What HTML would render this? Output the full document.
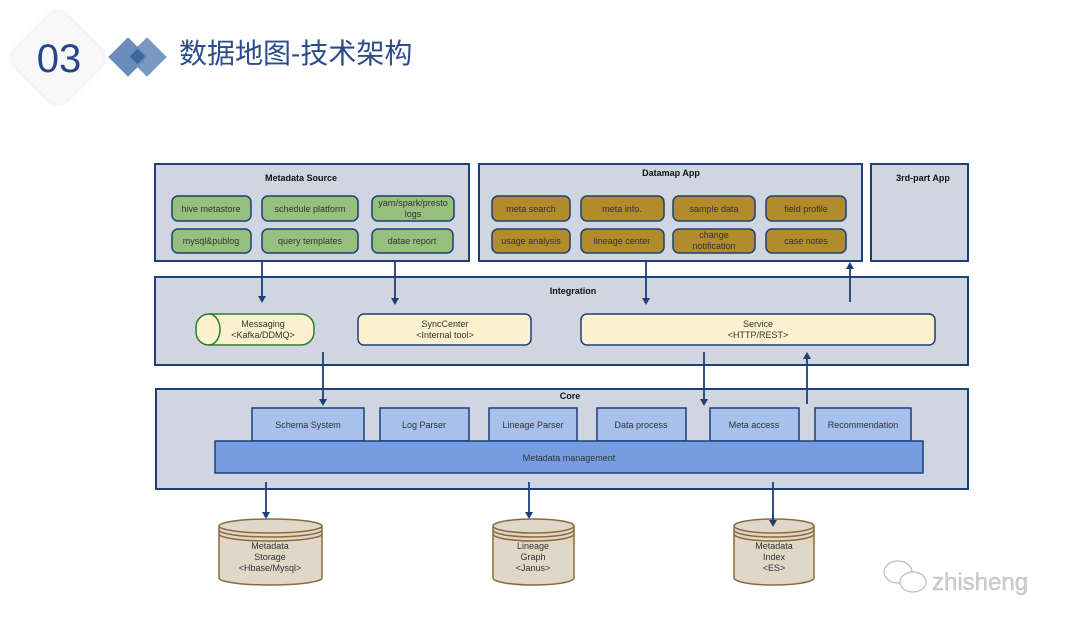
<!DOCTYPE html>
<html><head><meta charset="utf-8"><style>
html,body{margin:0;padding:0;background:#fff;width:1080px;height:631px;overflow:hidden}
svg text{font-family:"Liberation Sans",sans-serif}
</style></head><body>
<svg width="1080" height="631" viewBox="0 0 1080 631" xmlns="http://www.w3.org/2000/svg">
<defs>
<filter id="sh" x="-30%" y="-30%" width="160%" height="160%"><feGaussianBlur stdDeviation="2.5"/></filter>
</defs>
<!-- header -->
<rect x="22" y="22" width="72" height="72" rx="12" transform="rotate(45 58 58)" fill="#ddd" filter="url(#sh)"/>
<rect x="22" y="22" width="72" height="72" rx="12" transform="rotate(45 58 58)" fill="#f8f8f9"/>
<text x="59" y="72" font-size="40" fill="#27468a" text-anchor="middle">03</text>
<rect x="114" y="43" width="28" height="28" transform="rotate(45 128 57)" fill="#6a8dbd"/>
<rect x="133" y="43" width="28" height="28" transform="rotate(45 147 57)" fill="#6a8dbd" opacity="0.9"/>
<rect x="132" y="51" width="11" height="11" transform="rotate(45 137.5 56.5)" fill="#3f66a0"/>
<text x="179" y="63" font-size="28" fill="#2b4c8c" style="font-family:'Liberation Sans','Noto Sans CJK SC',sans-serif">数据地图-技术架构</text>

<g stroke="#1f3f77" stroke-width="2" fill="#cfd5e1">
<rect x="155" y="164" width="314" height="97"/>
<rect x="479" y="164" width="383" height="97"/>
<rect x="871" y="164" width="97" height="97"/>
<rect x="155" y="277" width="813" height="88"/>
<rect x="156" y="389" width="812" height="100"/>
</g>
<g font-size="9" font-weight="bold" fill="#111" text-anchor="middle">
<text x="301" y="181">Metadata Source</text>
<text x="671" y="176">Datamap App</text>
<text x="923" y="181">3rd-part App</text>
<text x="573" y="294">Integration</text>
<text x="570" y="399">Core</text>
</g>
<!-- green pills -->
<g stroke="#1f3f77" stroke-width="1.5" fill="#97c07f">
<rect x="172" y="196" width="79" height="25" rx="6"/>
<rect x="262" y="196" width="96" height="25" rx="6"/>
<rect x="372" y="196" width="82" height="25" rx="6"/>
<rect x="172" y="229" width="79" height="24" rx="6"/>
<rect x="262" y="229" width="96" height="24" rx="6"/>
<rect x="372" y="229" width="81" height="24" rx="6"/>
</g>
<g fill="#b18b2c" stroke="#1f3f77" stroke-width="1.5">
<rect x="492" y="196" width="78" height="25" rx="6"/>
<rect x="581" y="196" width="83" height="25" rx="6"/>
<rect x="673" y="196" width="82" height="25" rx="6"/>
<rect x="766" y="196" width="80" height="25" rx="6"/>
<rect x="492" y="229" width="78" height="24" rx="6"/>
<rect x="581" y="229" width="83" height="24" rx="6"/>
<rect x="673" y="229" width="82" height="24" rx="6"/>
<rect x="766" y="229" width="80" height="24" rx="6"/>
</g>
<g font-size="9" fill="#333" text-anchor="middle">
<text x="211" y="212">hive metastore</text>
<text x="310" y="212">schedule platform</text>
<text x="413" y="206">yarn/spark/presto</text>
<text x="413" y="217">logs</text>
<text x="211" y="244">mysql&amp;publog</text>
<text x="310" y="244">query templates</text>
<text x="412" y="244">datae report</text>
<text x="531" y="212">meta search</text>
<text x="622" y="212">meta info.</text>
<text x="714" y="212">sample data</text>
<text x="806" y="212">field profile</text>
<text x="531" y="244">usage analysis</text>
<text x="622" y="244">lineage center</text>
<text x="714" y="238">change</text>
<text x="714" y="249">notification</text>
<text x="806" y="244">case notes</text>
</g>
<!-- integration boxes -->
<rect x="196" y="314" width="118" height="31" rx="13" fill="#fbf1cf" stroke="#2e7d2e" stroke-width="1.5"/>
<path d="M209 314 A11 15.5 0 0 1 209 345" fill="none" stroke="#2e7d2e" stroke-width="1.5"/>
<rect x="358" y="314" width="173" height="31" rx="6" fill="#fbf1cf" stroke="#1f3f77" stroke-width="1.5"/>
<rect x="581" y="314" width="354" height="31" rx="6" fill="#fbf1cf" stroke="#1f3f77" stroke-width="1.5"/>
<g font-size="9" fill="#333" text-anchor="middle">
<text x="263" y="327">Messaging</text><text x="263" y="338">&lt;Kafka/DDMQ&gt;</text>
<text x="445" y="327">SyncCenter</text><text x="445" y="338">&lt;Internal tool&gt;</text>
<text x="758" y="327">Service</text><text x="758" y="338">&lt;HTTP/REST&gt;</text>
</g>
<!-- core -->
<g fill="#a7c0ec" stroke="#1f3f77" stroke-width="1.5">
<rect x="252" y="408" width="112" height="33"/>
<rect x="380" y="408" width="89" height="33"/>
<rect x="489" y="408" width="88" height="33"/>
<rect x="597" y="408" width="89" height="33"/>
<rect x="710" y="408" width="89" height="33"/>
<rect x="815" y="408" width="96" height="33"/>
</g>
<rect x="215" y="441" width="708" height="32" fill="#769de2" stroke="#1f3f77" stroke-width="1.5"/>
<g font-size="9" fill="#333" text-anchor="middle">
<text x="308" y="428">Schema System</text>
<text x="424" y="428">Log Parser</text>
<text x="533" y="428">Lineage Parser</text>
<text x="641" y="428">Data process</text>
<text x="754" y="428">Meta access</text>
<text x="863" y="428">Recommendation</text>
<text x="569" y="461">Metadata management</text>
</g>
<!-- arrows -->
<g stroke="#1f3f77" stroke-width="1.8" fill="none">
<line x1="262" y1="261" x2="262" y2="298"/>
<line x1="395" y1="261" x2="395" y2="300"/>
<line x1="646" y1="261" x2="646" y2="300"/>
<line x1="850" y1="302" x2="850" y2="266"/>
<line x1="323" y1="352" x2="323" y2="401"/>
<line x1="704" y1="352" x2="704" y2="401"/>
<line x1="807" y1="404" x2="807" y2="356"/>
<line x1="266" y1="482" x2="266" y2="514"/>
<line x1="529" y1="482" x2="529" y2="514"/>
<line x1="773" y1="482" x2="773" y2="522"/>
</g>
<g fill="#1f3f77">
<path d="M258 296 L266 296 L262 303Z"/>
<path d="M391 298 L399 298 L395 305Z"/>
<path d="M642 298 L650 298 L646 305Z"/>
<path d="M846 269 L854 269 L850 262Z"/>
<path d="M319 399 L327 399 L323 406Z"/>
<path d="M700 399 L708 399 L704 406Z"/>
<path d="M803 359 L811 359 L807 352Z"/>
<path d="M262 512 L270 512 L266 519Z"/>
<path d="M525 512 L533 512 L529 519Z"/>
</g>
<!-- cylinders -->
<g fill="#e0d7c9" stroke="#8a6a3c" stroke-width="1.5">
<path d="M219 526 L219 578 A51.5 7 0 0 0 322 578 L322 526"/>
<ellipse cx="270.5" cy="526" rx="51.5" ry="7"/>
<path d="M219 530 A51.5 7 0 0 0 322 530 M219 534 A51.5 7 0 0 0 322 534" fill="none"/>
<path d="M493 526 L493 578 A40.5 7 0 0 0 574 578 L574 526"/>
<ellipse cx="533.5" cy="526" rx="40.5" ry="7"/>
<path d="M493 530 A40.5 7 0 0 0 574 530 M493 534 A40.5 7 0 0 0 574 534" fill="none"/>
<path d="M734 526 L734 578 A40 7 0 0 0 814 578 L814 526"/>
<ellipse cx="774" cy="526" rx="40" ry="7"/>
<path d="M734 530 A40 7 0 0 0 814 530 M734 534 A40 7 0 0 0 814 534" fill="none"/>
</g>
<line x1="773" y1="515" x2="773" y2="522" stroke="#1f3f77" stroke-width="1.8"/>
<path d="M769 520 L777 520 L773 527Z" fill="#1f3f77"/>
<g font-size="9" fill="#333" text-anchor="middle">
<text x="270" y="549">Metadata</text><text x="270" y="560">Storage</text><text x="270" y="571">&lt;Hbase/Mysql&gt;</text>
<text x="533" y="549">Lineage</text><text x="533" y="560">Graph</text><text x="533" y="571">&lt;Janus&gt;</text>
<text x="774" y="549">Metadata</text><text x="774" y="560">Index</text><text x="774" y="571">&lt;ES&gt;</text>
</g>
<!-- watermark -->
<g fill="#fff" stroke="#bbb" stroke-width="1.2">
<ellipse cx="898" cy="572" rx="14" ry="11"/>
<ellipse cx="913" cy="582" rx="13" ry="10"/>
</g>
<text x="932" y="590" font-size="24" fill="#d0d0d0" stroke="#aaa" stroke-width="0.3">zhisheng</text>
</svg>
</body></html>
